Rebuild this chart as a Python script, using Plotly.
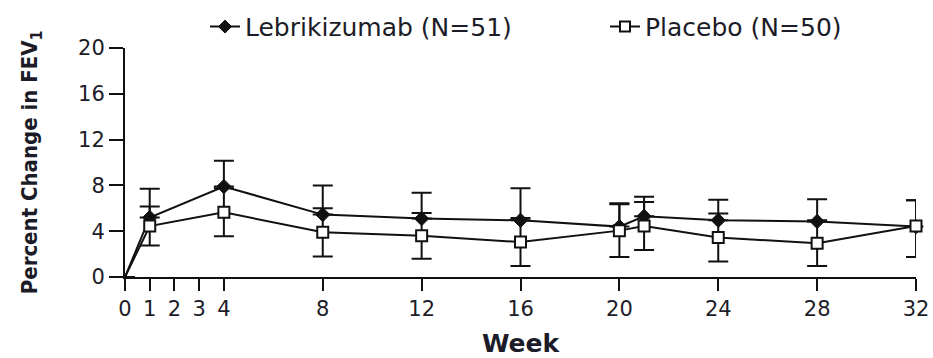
import plotly.graph_objects as go

weeks = [0, 1, 4, 8, 12, 16, 20, 21, 24, 28, 32]
leb_mean = [0, 5.2, 7.9, 5.45, 5.1, 4.95, 4.4, 5.3, 4.95, 4.85, 4.4]
leb_err_up = [0, 2.5, 2.25, 2.55, 2.25, 2.8, 2.05, 1.7, 1.8, 1.95, 2.3]
leb_err_down = [0, 0, 0, 0, 0, 0, 0, 0, 0, 0, 0]
pbo_mean = [0, 4.45, 5.65, 3.9, 3.6, 3.05, 4.05, 4.45, 3.45, 2.95, 4.45]
pbo_err_plus = [0, 1.7, 2.1, 2.1, 2.0, 2.1, 2.3, 2.1, 2.1, 2.0, 2.25]
pbo_err_minus = [0, 1.7, 2.1, 2.1, 2.0, 2.1, 2.3, 2.1, 2.1, 2.0, 2.7]

x_ticks = [0, 1, 2, 3, 4, 8, 12, 16, 20, 24, 28, 32]
y_ticks = [0, 4, 8, 12, 16, 20]

FONT = "DejaVu Sans"
COND = "DejaVu Sans Condensed, DejaVu Sans"
INK = "#111"
TXT = "#1c1c28"

# hide the marker at the week-0 origin, as in the reference
marker_sizes = [0 if w == 0 else 11 for w in weeks]

fig = go.Figure()
fig.add_trace(go.Scatter(
    x=weeks, y=leb_mean, mode="lines+markers", name="Lebrikizumab (N=51)",
    legend="legend",
    line=dict(color=INK, width=2),
    marker=dict(symbol="diamond", size=marker_sizes, opacity=1, color=INK,
                line=dict(color=INK, width=1)),
    error_y=dict(type="data", symmetric=False, array=leb_err_up, arrayminus=leb_err_down,
                 visible=True, color=INK, thickness=2, width=10),
))
fig.add_trace(go.Scatter(
    x=weeks, y=pbo_mean, mode="lines+markers", name="Placebo (N=50)",
    legend="legend2",
    line=dict(color=INK, width=2),
    marker=dict(symbol="square", size=marker_sizes, opacity=1, color="white",
                line=dict(color=INK, width=2)),
    error_y=dict(type="data", symmetric=False, array=pbo_err_plus, arrayminus=pbo_err_minus,
                 visible=True, color=INK, thickness=2, width=10),
))

legend_common = dict(orientation="h", xref="container", yref="container",
                     xanchor="left", yanchor="middle", y=0.925,
                     font=dict(family=FONT, size=25, color=TXT),
                     bgcolor="rgba(0,0,0,0)", borderwidth=0)

fig.update_layout(
    width=933, height=358,
    margin=dict(l=125, r=17, t=48, b=81, autoexpand=False),
    paper_bgcolor="white", plot_bgcolor="white",
    font=dict(family=FONT, size=21, color=TXT),
    showlegend=True,
    legend=dict(x=205 / 933, **legend_common),
    legend2=dict(x=605 / 933, **legend_common),
    xaxis=dict(range=[0, 32], tickvals=x_ticks, ticktext=[str(v) for v in x_ticks],
               showgrid=False, zeroline=False, showline=True, linecolor=INK, linewidth=2,
               ticks="outside", ticklen=12, tickwidth=2, tickcolor=INK,
               title=dict(text="<b>Week</b>", standoff=25,
                          font=dict(family=FONT, size=25, color=TXT)),
               tickfont=dict(size=21)),
    yaxis=dict(range=[0, 20], tickvals=y_ticks, showgrid=False, zeroline=False,
               showline=True, linecolor=INK, linewidth=2,
               ticks="outside", ticklen=14, tickwidth=2, tickcolor=INK,
               title=dict(text="<b>Percent Change in FEV<sub>1</sub></b>", standoff=34,
                          font=dict(family=COND, size=22, color=TXT)),
               tickfont=dict(size=21)),
)
fig.update_traces(cliponaxis=False)

fig.write_html("out.html", config={"displayModeBar": False},
               post_script="document.body.style.margin='0';")
